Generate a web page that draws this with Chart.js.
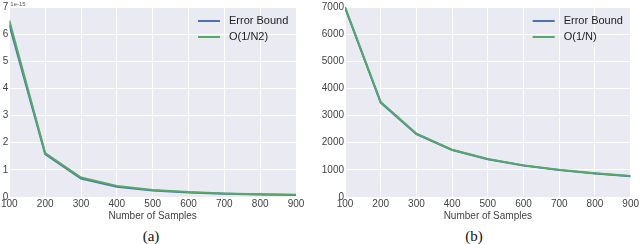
<!DOCTYPE html>
<html>
<head>
<meta charset="utf-8">
<script src="https://cdn.jsdelivr.net/npm/chart.js@4"></script>
<style>
  body { margin: 0; background: #fff; width: 640px; height: 244px; position: relative; overflow: hidden; }
  .box { position: absolute; top: 0; width: 320px; height: 222px; }
  .cap { position: absolute; top: 228px; width: 40px; text-align: center; font: 15px "Liberation Serif", serif; color: #111; }
</style>
</head>
<body>
<div class="box" style="left:0"><canvas id="chartA"></canvas></div>
<div class="box" style="left:320px"><canvas id="chartB"></canvas></div>
<div class="cap" style="left:131px">(a)</div>
<div class="cap" style="left:454px">(b)</div>
<script>
var samples = [100, 200, 300, 400, 500, 600, 700, 800, 900];

// left panel, values in units of 1e-15
var boundA = [6.35, 1.58, 0.68, 0.38, 0.24, 0.17, 0.12, 0.09, 0.07];
var orderA = [6.5, 1.62, 0.72, 0.41, 0.26, 0.18, 0.13, 0.10, 0.08];

// right panel
var boundB = [6980, 3480, 2320, 1730, 1390, 1160, 990, 870, 760];
var orderB = [7000, 3500, 2330, 1740, 1400, 1165, 1000, 875, 770];

var blue = "#4C72B0";
var green = "#55A868";

var bgPlugin = {
    id: 'plotBg',
    beforeDraw: function(chart) {
        var a = chart.chartArea, c = chart.ctx;
        c.save();
        c.fillStyle = "#EAEAF2";
        c.fillRect(a.left, a.top, a.right - a.left, a.bottom - a.top);
        c.restore();
    }
};

var legendPlugin = {
    id: 'innerLegend',
    afterDraw: function(chart) {
        var a = chart.chartArea, c = chart.ctx;
        c.save();
        c.font = "11px 'Liberation Sans', Arial, sans-serif";
        c.textBaseline = "middle";
        chart.data.datasets.forEach(function(ds, i) {
            var y = a.top + 14 + i * 16;
            var x = a.right - 98;
            c.strokeStyle = ds.borderColor;
            c.lineWidth = 2;
            c.beginPath();
            c.moveTo(x, y);
            c.lineTo(x + 22, y);
            c.stroke();
            c.fillStyle = "#222";
            c.fillText(ds.label, x + 31, y);
        });
        if (chart.options.plugins.offsetText) {
            c.font = "6px 'Liberation Sans', Arial, sans-serif";
            c.fillStyle = "#555";
            c.textBaseline = "alphabetic";
            c.fillText(chart.options.plugins.offsetText, a.left + 1, a.top - 1);
        }
        c.restore();
    }
};

function makeChart(id, bound, order, label2, yMax, yStep, yWidth, padRight, offsetText) {
    return new Chart(document.getElementById(id), {
        type: 'line',
        data: {
            datasets: [{
                label: "Error Bound",
                data: samples.map(function(n, i) { return {x: n, y: bound[i]}; }),
                borderColor: blue,
                borderWidth: 2,
                pointRadius: 0,
                tension: 0,
                order: 1
            }, {
                label: label2,
                data: samples.map(function(n, i) { return {x: n, y: order[i]}; }),
                borderColor: green,
                borderWidth: 2,
                pointRadius: 0,
                tension: 0,
                order: 0
            }]
        },
        options: {
            responsive: true,
            maintainAspectRatio: false,
            animation: false,
            layout: { padding: { top: 5, right: padRight, left: 0, bottom: 0 } },
            plugins: {
                legend: { display: false },
                tooltip: { enabled: false },
                offsetText: offsetText
            },
            scales: {
                x: {
                    type: 'linear',
                    min: 100,
                    max: 900,
                    ticks: { stepSize: 100, color: "#444", padding: 1, maxRotation: 0,
                             font: { size: 10, family: "'Liberation Sans', Arial, sans-serif" } },
                    grid: { color: "#fff", lineWidth: 1, drawTicks: false },
                    border: { display: false },
                    title: { display: true, text: "Number of Samples", color: "#444", padding: 0,
                             font: { size: 10, family: "'Liberation Sans', Arial, sans-serif" } },
                    afterFit: function(s) { s.height = 25; }
                },
                y: {
                    min: 0,
                    max: yMax,
                    ticks: { stepSize: yStep, color: "#444", padding: 1,
                             callback: function(v) { return String(v); },
                             font: { size: 10, family: "'Liberation Sans', Arial, sans-serif" } },
                    grid: { color: "#fff", lineWidth: 1, drawTicks: false },
                    border: { display: false },
                    afterFit: function(s) { s.width = yWidth; }
                }
            }
        },
        plugins: [bgPlugin, legendPlugin]
    });
}

makeChart("chartA", boundA, orderA, "O(1/N2)", 7, 1, 7, 24, "1e-15");
makeChart("chartB", boundB, orderB, "O(1/N)", 7000, 1000, 25, 7, null);
</script>
</body>
</html>
